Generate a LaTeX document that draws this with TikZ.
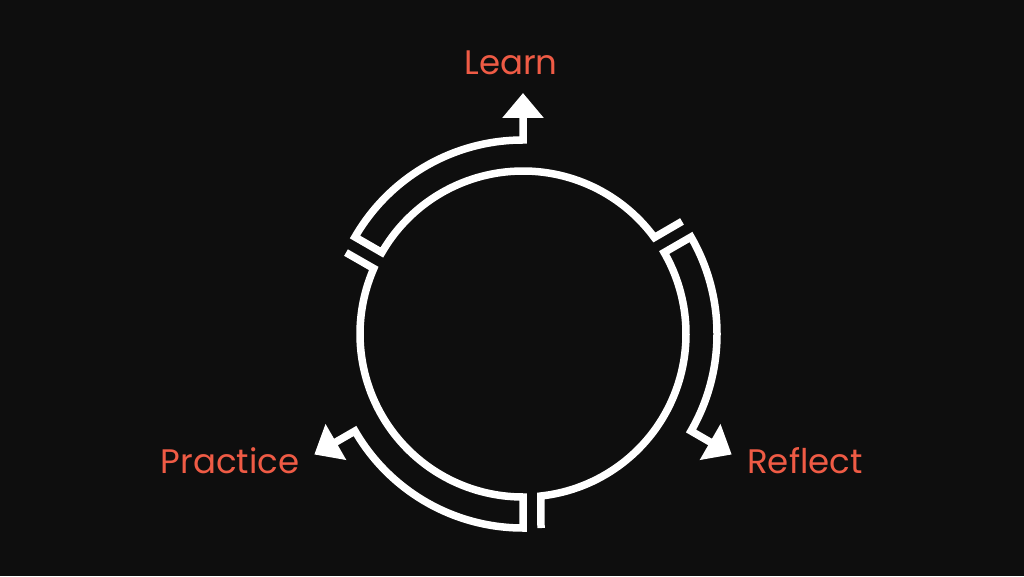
\documentclass[tikz,border=0pt]{standalone}
\usepackage{fontspec}
\setmainfont{Poppins}
\usetikzlibrary{arrows.meta,calc}
\definecolor{bg}{HTML}{0E0E0E}
\definecolor{lbl}{HTML}{EF5B45}
\begin{document}
\begin{tikzpicture}[x=1pt,y=1pt,
  cyc/.style={draw=white,line width=7.5pt,line join=miter,line cap=butt,
    -{Triangle[width=40pt 0,length=25pt 0]}},
  lab/.style={text=lbl,font=\fontsize{34}{38}\selectfont,anchor=base,inner sep=0pt}]
\fill[bg] (0,0) rectangle (1024,576);
\useasboundingbox (0,0) rectangle (1024,576);
\foreach \rot in {0,-120,120}{
\begin{scope}[shift={(523pt,242pt)},rotate=\rot]
  \draw[cyc] ($(30:194pt)+(120:18pt)$) -- (36.3:163pt)
     arc[start angle=36.3,end angle=150,radius=163pt]
     -- (150:194pt) arc[start angle=150,end angle=90,radius=194pt] -- (90:241pt);
\end{scope}}
\node[lab] (learn) at (511,501) {Learn};
\node[lab] (practice) at (230,103) {Practice};
\node[lab] (reflect) at (805,103) {Reflect};
\end{tikzpicture}
\end{document}
